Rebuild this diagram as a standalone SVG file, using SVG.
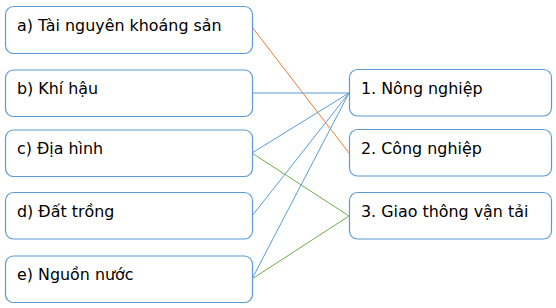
<svg xmlns="http://www.w3.org/2000/svg" width="556" height="308" viewBox="0 0 556 308">
<style>
.box{fill:#fff;stroke:#5b9bd5;stroke-width:1.2}
.t{font-family:"DejaVu Sans",Verdana,sans-serif;font-size:15.9px;fill:#000}
.c{fill:none;stroke-width:1}
.b{stroke:#5b9bd5}
.o{stroke:#ed7d31}
.g{stroke:#70ad47}
</style>
<rect width="556" height="308" fill="#fff"/>
<g id="connectors">
<line class="c o" x1="252" y1="27" x2="349" y2="153"/>
<line class="c b" x1="252" y1="93" x2="349" y2="93"/>
<line class="c b" x1="252" y1="153" x2="349" y2="93"/>
<line class="c g" x1="252" y1="153" x2="349" y2="216"/>
<line class="c b" x1="252" y1="216" x2="349" y2="93"/>
<line class="c b" x1="252" y1="279" x2="349" y2="93"/>
<line class="c g" x1="252" y1="279" x2="349" y2="216"/>
</g>
<g id="a"><rect class="box" x="5.5" y="6.5" width="247" height="47" rx="8"/><text class="t" x="17" y="31">a) Tài nguyên khoáng sản</text></g>
<g id="b"><rect class="box" x="5.5" y="70" width="247" height="46.5" rx="8"/><text class="t" x="17" y="94">b) Khí hậu</text></g>
<g id="c"><rect class="box" x="5.5" y="130" width="247" height="46.5" rx="8"/><text class="t" x="17" y="154">c) Địa hình</text></g>
<g id="d"><rect class="box" x="5.5" y="192.5" width="247" height="46.5" rx="8"/><text class="t" x="17" y="217">d) Đất trồng</text></g>
<g id="e"><rect class="box" x="5.5" y="256" width="247" height="46.5" rx="8"/><text class="t" x="17" y="280">e) Nguồn nước</text></g>
<g id="n1"><rect class="box" x="349.5" y="69.5" width="202" height="46.5" rx="8"/><text class="t" x="361" y="94">1. Nông nghiệp</text></g>
<g id="n2"><rect class="box" x="349.5" y="129.5" width="202" height="46.5" rx="8"/><text class="t" x="361" y="154">2. Công nghiệp</text></g>
<g id="n3"><rect class="box" x="349.5" y="192.5" width="202" height="46.5" rx="8"/><text class="t" x="361" y="217">3. Giao thông vận tải</text></g>
</svg>
